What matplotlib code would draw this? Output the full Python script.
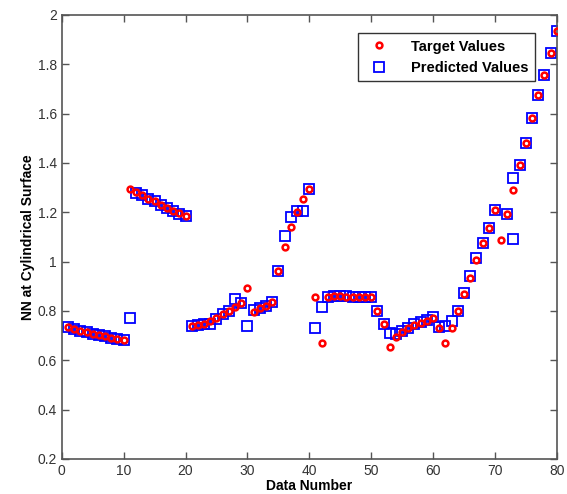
import matplotlib
matplotlib.use('Agg')
import matplotlib.pyplot as plt

# data
data_number = list(range(1, 81))

target = [0.735, 0.728, 0.718, 0.714, 0.708, 0.702, 0.698, 0.692, 0.688, 0.680,
          1.295, 1.280, 1.270, 1.255, 1.245, 1.230, 1.215, 1.205, 1.195, 1.185,
          0.740, 0.742, 0.748, 0.758, 0.772, 0.787, 0.800, 0.815, 0.830, 0.892,
          0.797, 0.810, 0.820, 0.835, 0.962, 1.060, 1.138, 1.200, 1.253, 1.295,
          0.858, 0.669, 0.855, 0.860, 0.860, 0.858, 0.855, 0.855, 0.855, 0.855,
          0.800, 0.745, 0.655, 0.695, 0.715, 0.730, 0.742, 0.752, 0.760, 0.772,
          0.730, 0.669, 0.730, 0.800, 0.870, 0.935, 1.005, 1.075, 1.135, 1.207,
          1.088, 1.193, 1.292, 1.390, 1.482, 1.580, 1.675, 1.757, 1.847, 1.935]

# one predicted marker sits at x=73 in the picture
pred_x = list(range(1, 71)) + [73] + list(range(72, 81))
predicted = [0.735, 0.728, 0.718, 0.714, 0.708, 0.702, 0.698, 0.692, 0.688, 0.680,
             0.770, 1.278, 1.268, 1.252, 1.245, 1.228, 1.215, 1.203, 1.192, 1.185,
             0.740, 0.742, 0.745, 0.745, 0.768, 0.787, 0.800, 0.850, 0.830, 0.737,
             0.804, 0.810, 0.820, 0.835, 0.962, 1.104, 1.180, 1.205, 1.205, 1.295,
             0.729, 0.815, 0.858, 0.862, 0.862, 0.860, 0.855, 0.855, 0.855, 0.855,
             0.800, 0.745, 0.712, 0.705, 0.720, 0.732, 0.745, 0.755, 0.762, 0.775,
             0.733, 0.737, 0.757, 0.800, 0.872, 0.942, 1.014, 1.075, 1.135, 1.207,
             1.090, 1.193, 1.338, 1.392, 1.482, 1.581, 1.673, 1.757, 1.847, 1.935]

x_ticks = list(range(0, 81, 10))
y_ticks = [0.2, 0.4, 0.6, 0.8, 1.0, 1.2, 1.4, 1.6, 1.8, 2.0]
y_tick_labels = ['0.2', '0.4', '0.6', '0.8', '1', '1.2', '1.4', '1.6', '1.8', '2']

plt.rcParams['font.family'] = ['Liberation Sans', 'DejaVu Sans']

fig = plt.figure(figsize=(5.67, 4.94), dpi=100)
ax = fig.add_axes([0.109, 0.071, 0.873, 0.899])

ax.plot(data_number, target, 'o', mfc='none', mec='#ff0000', mew=1.8, ms=4.2,
        label='Target Values', zorder=3)
ax.plot(pred_x, predicted, 's', mfc='none', mec='#0000ff', mew=1.3, ms=7.5,
        label='Predicted Values', zorder=2)

ax.set_xlim(0, 80)
ax.set_ylim(0.2, 2)
ax.set_xticks(x_ticks)
ax.set_yticks(y_ticks)
ax.set_yticklabels(y_tick_labels)
ax.tick_params(direction='in', top=True, right=True, length=5, width=1,
               colors='#555555', labelcolor='#333333', labelsize=10)
for s in ax.spines.values():
    s.set_color('#555555')
    s.set_linewidth(1.2)

ax.set_xlabel('Data Number', fontweight='bold', fontsize=10, labelpad=1)
ax.set_ylabel('NN at Cylindrical Surface', fontweight='bold', fontsize=10, labelpad=2)

leg = ax.legend(loc='upper right', bbox_to_anchor=(0.956, 0.959), numpoints=1,
                fancybox=False, framealpha=1, edgecolor='#333333',
                prop={'weight': 'bold', 'size': 10.5}, handletextpad=1.2,
                borderpad=0.45, labelspacing=0.5, borderaxespad=0)
leg.get_frame().set_linewidth(1.0)

fig.savefig('out.png', dpi=100)
